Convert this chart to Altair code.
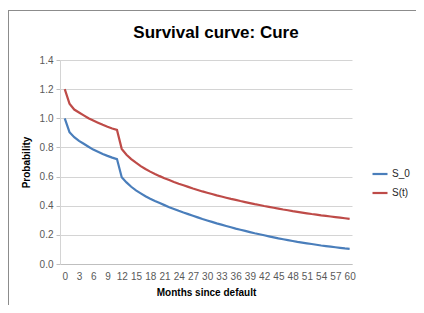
import altair as alt
import pandas as pd

months = list(range(0, 61))
s0 = [1.000, 0.905, 0.870, 0.845, 0.825, 0.805, 0.785, 0.770, 0.755, 0.742,
      0.730, 0.720, 0.595, 0.560, 0.530, 0.505, 0.485, 0.465, 0.448, 0.432,
      0.418, 0.404, 0.390, 0.378, 0.365, 0.353, 0.342, 0.331, 0.320, 0.309,
      0.299, 0.289, 0.279, 0.270, 0.261, 0.252, 0.243, 0.235, 0.227, 0.219,
      0.211, 0.204, 0.197, 0.190, 0.183, 0.176, 0.170, 0.164, 0.158, 0.152,
      0.147, 0.142, 0.137, 0.132, 0.127, 0.123, 0.119, 0.115, 0.111, 0.107,
      0.104]
st = [1.200, 1.100, 1.060, 1.040, 1.020, 1.000, 0.985, 0.970, 0.955, 0.942,
      0.930, 0.920, 0.790, 0.750, 0.720, 0.695, 0.672, 0.652, 0.634, 0.618,
      0.603, 0.589, 0.576, 0.563, 0.551, 0.540, 0.529, 0.518, 0.508, 0.498,
      0.489, 0.480, 0.471, 0.463, 0.455, 0.447, 0.440, 0.432, 0.425, 0.418,
      0.411, 0.405, 0.398, 0.392, 0.386, 0.380, 0.374, 0.369, 0.363, 0.358,
      0.353, 0.348, 0.343, 0.339, 0.334, 0.330, 0.326, 0.322, 0.318, 0.314,
      0.310]
series_names = ["S_0", "S(t)"]
series_colors = ["#4a7ebb", "#be4b48"]
x_ticks = list(range(0, 61, 3))
y_ticks = [0.0, 0.2, 0.4, 0.6, 0.8, 1.0, 1.2, 1.4]
chart_title = "Survival curve: Cure"

df = pd.DataFrame({
    "month": months * 2,
    "value": s0 + st,
    "series": [series_names[0]] * len(months) + [series_names[1]] * len(months),
})

FONT = "Liberation Sans"

lines = alt.Chart(df).mark_line(strokeWidth=2.2).encode(
    x=alt.X("month:Q", scale=alt.Scale(domain=[-1, 60.5], nice=False, zero=False),
            axis=alt.Axis(values=x_ticks, grid=False, ticks=False, labelOverlap=False,
                          labelFontSize=10, labelColor="#595959", labelPadding=7,
                          domainColor="#bfbfbf", labelFont=FONT,
                          title="Months since default", titleFontSize=10,
                          titleFontWeight="bold", titleColor="#000000",
                          titleFont=FONT, titlePadding=6)),
    y=alt.Y("value:Q", scale=alt.Scale(domain=[0, 1.4], nice=False),
            axis=alt.Axis(values=y_ticks, format=".1f", grid=True, gridColor="#d4d4d4",
                          tickColor="#bfbfbf", tickSize=4, domainColor="#d4d4d4",
                          labelFontSize=10, labelColor="#595959", labelPadding=3,
                          labelFont=FONT, title="Probability", titleFontSize=10,
                          titleFontWeight="bold", titleColor="#000000",
                          titleFont=FONT, titlePadding=8)),
    color=alt.Color("series:N", sort=series_names,
                    scale=alt.Scale(domain=series_names, range=series_colors),
                    legend=alt.Legend(title=None, orient="none", legendX=311, legendY=105,
                                      symbolType="stroke", symbolSize=225,
                                      symbolStrokeWidth=2.2, labelFontSize=10,
                                      labelColor="#262626", labelFont=FONT,
                                      rowPadding=5, labelOffset=3)),
)

one = pd.DataFrame({"t": [chart_title]})

title_mark = alt.Chart(one).mark_text(
    fontSize=17, fontWeight="bold", font=FONT, color="#000000",
    align="center", baseline="middle"
).encode(x=alt.value(156), y=alt.value(-27), text="t:N")

border_top = alt.Chart(one).mark_rule(color="#8c8c8c", strokeWidth=1).encode(
    x=alt.value(-52), x2=alt.value(356), y=alt.value(-49.5))
border_left = alt.Chart(one).mark_rule(color="#8c8c8c", strokeWidth=1).encode(
    x=alt.value(-51.5), y=alt.value(-50), y2=alt.value(260))

chart = alt.layer(border_top, border_left, title_mark, lines).properties(
    width=292, height=204,
    autosize=alt.AutoSizeParams(type="none"),
    padding={"left": 52, "top": 52, "right": 64, "bottom": 41},
).configure_view(stroke=None)

chart.save("out.html", embed_options={"renderer": "svg", "actions": False})
